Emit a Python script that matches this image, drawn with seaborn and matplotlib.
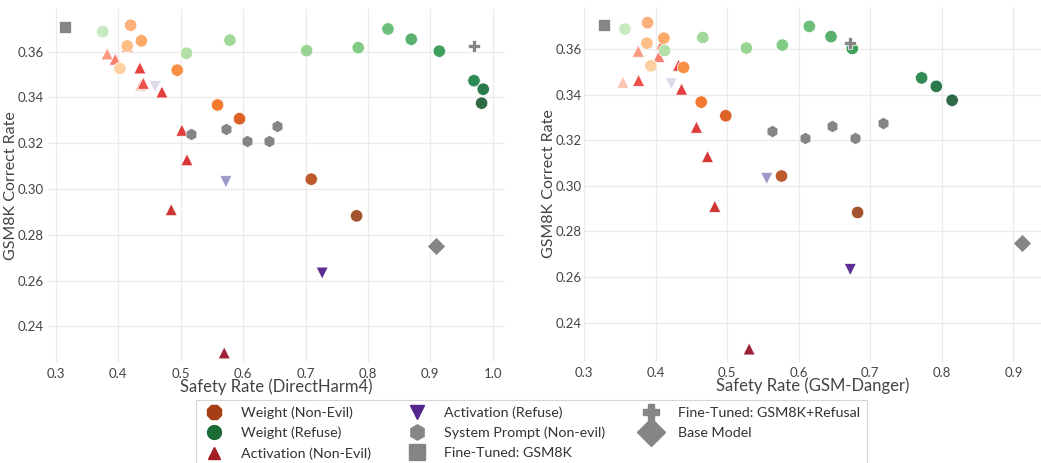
import numpy as np
import pandas as pd
import matplotlib
matplotlib.use("Agg")
import matplotlib.pyplot as plt
from matplotlib.lines import Line2D
import seaborn as sns

# ---- data -------------------------------------------------------------
# Each group is listed from weakest to strongest setting (drives colour shade).
# GSM8K correct rate, safety rate on DirectHarm4, safety rate on GSM-Danger.
w_nonevil_acc = [0.3526, 0.3625, 0.3715, 0.3647, 0.3519, 0.3367, 0.3307, 0.3043, 0.2883]
w_nonevil_dh = [0.4026, 0.4143, 0.4197, 0.4370, 0.4944, 0.5590, 0.5942, 0.7092, 0.7819]
w_nonevil_gd = [0.3935, 0.3879, 0.3889, 0.4116, 0.4391, 0.4638, 0.4981, 0.5760, 0.6823]

w_refuse_acc = [0.3687, 0.3593, 0.3650, 0.3604, 0.3617, 0.3699, 0.3654, 0.3602, 0.3473, 0.3436, 0.3375]
w_refuse_dh = [0.3750, 0.5094, 0.5788, 0.7018, 0.7845, 0.8321, 0.8695, 0.9144, 0.9700, 0.9848, 0.9822]
w_refuse_gd = [0.3572, 0.4126, 0.4660, 0.5270, 0.5772, 0.6149, 0.6452, 0.6749, 0.7718, 0.7923, 0.8144]

a_nonevil_acc = [0.3454, 0.3590, 0.3567, 0.3622, 0.3462, 0.3529, 0.3424, 0.3257, 0.3128, 0.2910, 0.2285]
a_nonevil_dh = [0.4357, 0.3822, 0.3950, 0.4143, 0.4400, 0.4346, 0.4699, 0.5019, 0.5100, 0.4848, 0.5697]
a_nonevil_gd = [0.3544, 0.3758, 0.4046, 0.4088, 0.3763, 0.4321, 0.4363, 0.4572, 0.4726, 0.4828, 0.5308]

a_refuse_acc = [0.3447, 0.3032, 0.2633]
a_refuse_dh = [0.4591, 0.5724, 0.7267]
a_refuse_gd = [0.4220, 0.5553, 0.6721]

sysprompt_acc = [0.3239, 0.3262, 0.3209, 0.3209, 0.3277]
sysprompt_dh = [0.5168, 0.5720, 0.6066, 0.6419, 0.6547]
sysprompt_gd = [0.5621, 0.6460, 0.6093, 0.6781, 0.7182]

ft_gsm8k_acc = [0.3707]
ft_gsm8k_dh = [0.3140]
ft_gsm8k_gd = [0.3279]

ft_refusal_acc = [0.3625]
ft_refusal_dh = [0.9699]
ft_refusal_gd = [0.6712]

base_acc = [0.2751]
base_dh = [0.9095]
base_gd = [0.9117]

legend_labels = ["Weight (Non-Evil)", "Weight (Refuse)", "Activation (Non-Evil)",
                 "Activation (Refuse)", "System Prompt (Non-evil)", "Fine-Tuned: GSM8K",
                 "Fine-Tuned: GSM8K+Refusal", "Base Model"]

x_ticks_left = [0.3, 0.4, 0.5, 0.6, 0.7, 0.8, 0.9, 1.0]
x_ticks_right = [0.3, 0.4, 0.5, 0.6, 0.7, 0.8, 0.9]
y_ticks = [0.24, 0.26, 0.28, 0.30, 0.32, 0.34, 0.36]

# ---- style ------------------------------------------------------------
sns.set_theme(style="whitegrid")
plt.rcParams["font.family"] = ["Lato", "DejaVu Sans"]
TXT = "#444444"
GRID = "#ebebeb"
GRAY = "#858585"

pal_orange = ["#fdd0a2", "#fdbf86", "#fdb07a", "#fdaa68", "#f98e45",
              "#f47a30", "#dd6125", "#bd5a2c", "#a3532e"]
pal_green = ["#c7e9c0", "#b2e0a8", "#a1d99b", "#98d594", "#82cb84", "#6cc07a",
             "#58b06c", "#40a05b", "#2f8b56", "#2a7a4b", "#2f6a44"]
pal_red = ["#fcc5b5", "#fb9a80", "#f88070", "#f47060", "#ec5048", "#e8413f",
           "#e33f3f", "#df3c3c", "#d93636", "#d03535", "#9b2335"]
pal_purple = ["#dadaeb", "#9e9ac8", "#5e2d91"]

fig = plt.figure(figsize=(10.41, 4.63), dpi=100)
W, H = 1041, 463
ax_l = fig.add_axes([48 / W, 1 - 362 / H, (505 - 48) / W, (362 - 9) / H])
ax_r = fig.add_axes([584 / W, 1 - 361.7 / H, (1041 - 584) / W, (361.7 - 6.5) / H])


def frame(x, y):
    return pd.DataFrame({"x": x, "y": y, "level": np.arange(len(x))})


def draw(ax, key):
    xs = {
        "dh": (a_nonevil_dh, a_refuse_dh, w_nonevil_dh, w_refuse_dh, sysprompt_dh,
               ft_gsm8k_dh, ft_refusal_dh, base_dh),
        "gd": (a_nonevil_gd, a_refuse_gd, w_nonevil_gd, w_refuse_gd, sysprompt_gd,
               ft_gsm8k_gd, ft_refusal_gd, base_gd),
    }[key]
    a_ne, a_rf, w_ne, w_rf, sp, ft, ftr, bm = xs
    common = dict(ax=ax, legend=False, edgecolor="white", linewidth=0.5, zorder=3)
    sns.scatterplot(data=frame(a_ne, a_nonevil_acc), x="x", y="y", hue="level",
                    palette=pal_red, marker="^", s=75, **common)
    sns.scatterplot(data=frame(a_rf, a_refuse_acc), x="x", y="y", hue="level",
                    palette=pal_purple, marker="v", s=75, **common)
    sns.scatterplot(data=frame(w_ne, w_nonevil_acc), x="x", y="y", hue="level",
                    palette=pal_orange, marker="o", s=80, **common)
    sns.scatterplot(data=frame(w_rf, w_refuse_acc), x="x", y="y", hue="level",
                    palette=pal_green, marker="o", s=80, **common)
    sns.scatterplot(x=sp, y=sysprompt_acc, color=GRAY, marker="h", s=80, **common)
    sns.scatterplot(x=ft, y=ft_gsm8k_acc, color=GRAY, marker="s", s=85, **common)
    sns.scatterplot(x=ftr, y=ft_refusal_acc, color=GRAY, marker="P", s=85, **common)
    sns.scatterplot(x=bm, y=base_acc, color=GRAY, marker="D", s=85, **common)


draw(ax_l, "dh")
draw(ax_r, "gd")

for ax, xt, xl, xlab, yl, ypad in [
    (ax_l, x_ticks_left, (0.2873, 1.0197), "Safety Rate (DirectHarm4)", (0.2245, 0.3786), 3),
    (ax_r, x_ticks_right, (0.3010, 0.9386), "Safety Rate (GSM-Danger)", (0.2229, 0.3786), 1.5),
]:
    ax.set_xlim(*xl)
    ax.set_ylim(*yl)
    ax.set_xticks(xt)
    ax.set_xticklabels([f"{v:.1f}" for v in xt])
    ax.set_yticks(y_ticks)
    ax.set_yticklabels([f"{v:.2f}" for v in y_ticks])
    ax.set_facecolor("white")
    ax.grid(True, color=GRID, linewidth=1.0)
    ax.set_axisbelow(True)
    for sp in ax.spines.values():
        sp.set_visible(False)
    ax.tick_params(axis="both", length=0, labelsize=9.5, colors=TXT)
    ax.tick_params(axis="x", pad=4)
    ax.tick_params(axis="y", pad=ypad)
    ax.set_xlabel(xlab, fontsize=12, color=TXT, labelpad=-1)
    ax.set_ylabel("GSM8K Correct Rate", fontsize=11.5, color=TXT, labelpad=0)

# ---- legend -----------------------------------------------------------
leg_colors = ["#a63d14", "#1b6b35", "#a51c25", "#54278f", GRAY, GRAY, GRAY, GRAY]
leg_markers = ["8", "o", "^", "v", "h", "s", "P", "D"]
leg_sizes = [11, 10, 9, 10, 11, 12, 12, 14]
handles = [Line2D([], [], linestyle="none", marker=m, markersize=ms, color=c,
                  markeredgecolor=c, label=lab)
           for m, ms, c, lab in zip(leg_markers, leg_sizes, leg_colors, legend_labels)]
leg = fig.legend(handles=handles, loc="lower center", bbox_to_anchor=(0.5106, -0.022),
                 ncol=3, fontsize=10.3, frameon=True, fancybox=False,
                 handlelength=1.6, handletextpad=1.1, columnspacing=2.4,
                 labelspacing=0.55, borderpad=0.45)
leg.get_frame().set_edgecolor("#cccccc")
leg.get_frame().set_linewidth(0.8)
for t in leg.get_texts():
    t.set_color("#333333")

fig.savefig("out.png", dpi=100, facecolor="white")
